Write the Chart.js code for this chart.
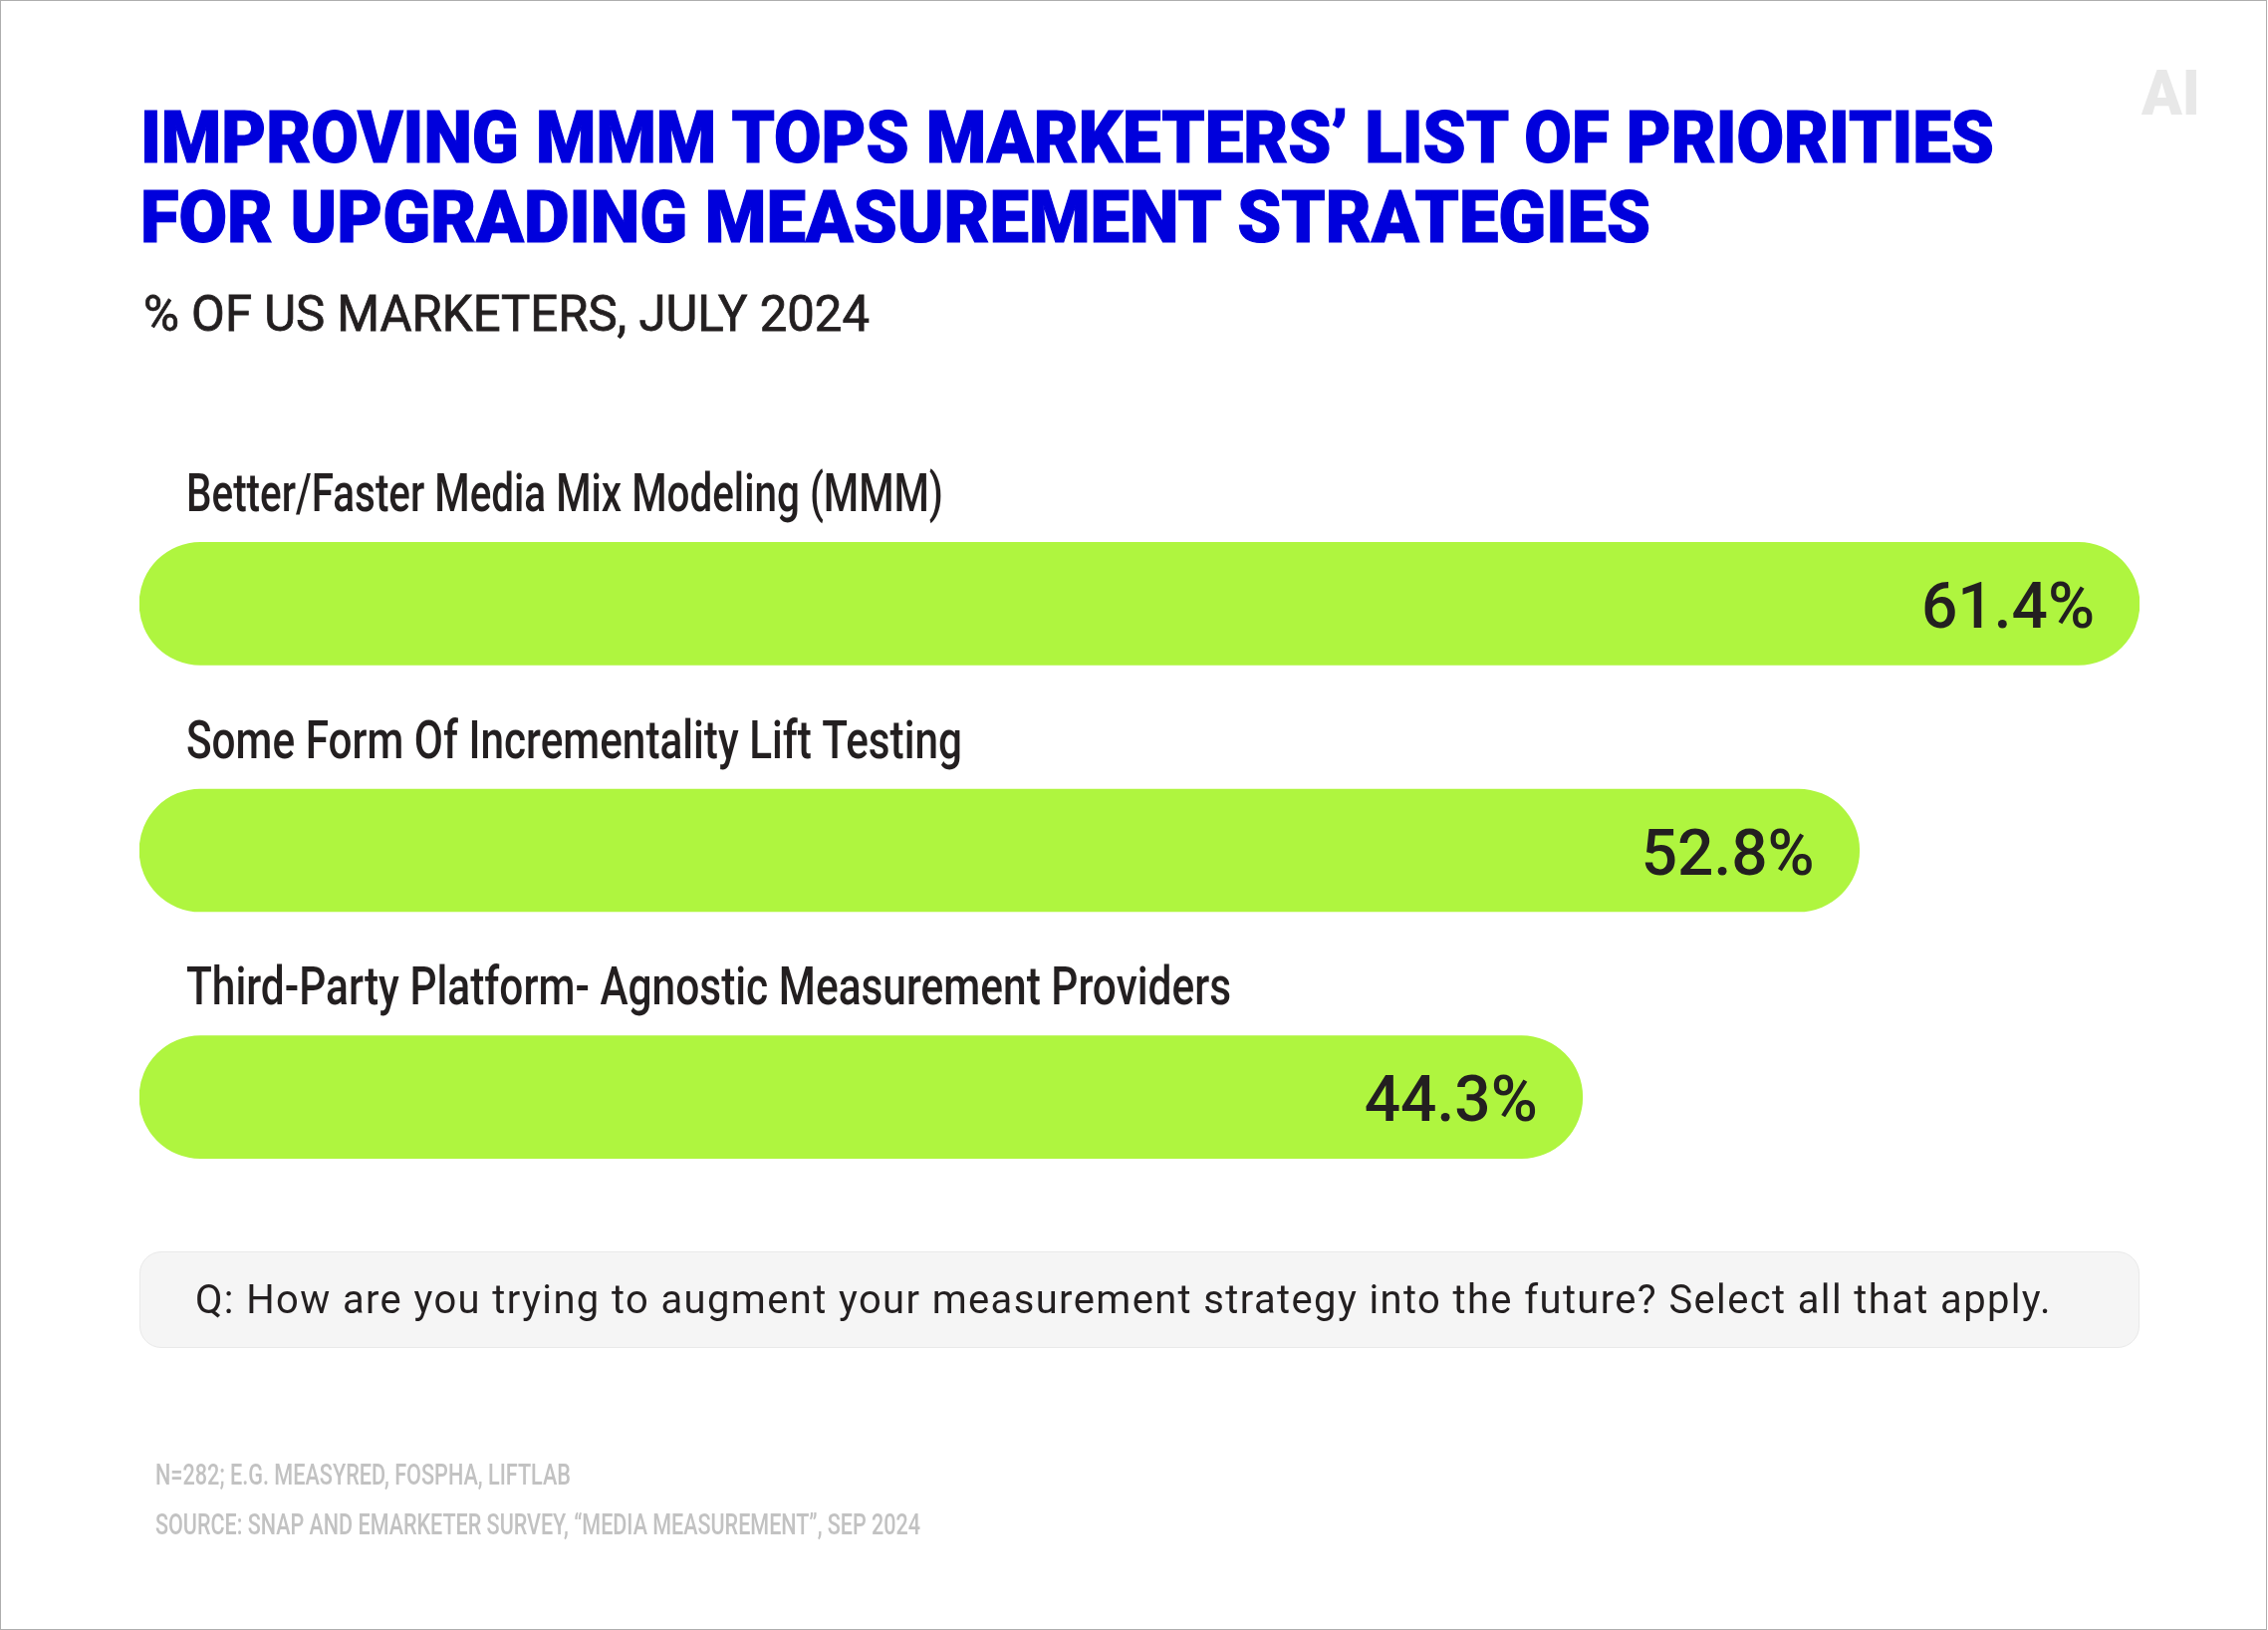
<!DOCTYPE html>
<html><head><meta charset="utf-8">
<script src="https://cdn.jsdelivr.net/npm/chart.js@4"></script>
<style>
html,body{margin:0;padding:0;background:#fff}
#page{position:relative;width:2277px;height:1636px;overflow:hidden;background:#fff;box-sizing:border-box}
#frame{position:absolute;inset:0 1px 0 0;border:1.5px solid #aeaeae;box-sizing:border-box;pointer-events:none}
canvas{position:absolute;left:0;top:0}
#qbox{position:absolute;left:140px;top:1256px;width:2008px;height:97px;box-sizing:border-box;background:#f5f5f5;border:1.5px solid #e9e9e9;border-radius:22px}
.t{position:absolute;white-space:nowrap;transform-origin:0 0;line-height:1}
</style></head><body>
<div id="page">
<div id="qbox"></div>
<canvas id="c" width="2277" height="1636"></canvas>
<div id="frame"></div>
</div>
<script>
const titleLines = ["IMPROVING MMM TOPS MARKETERS’ LIST OF PRIORITIES","FOR UPGRADING MEASUREMENT STRATEGIES"];
const subtitle = "% OF US MARKETERS, JULY 2024";
const categories = ["Better/Faster Media Mix Modeling (MMM)","Some Form Of Incrementality Lift Testing","Third-Party Platform- Agnostic Measurement Providers"];
const values = [61.4,52.8,44.3];
const question = "Q: How are you trying to augment your measurement strategy into the future? Select all that apply.";
const footnotes = ["N=282; E.G. MEASYRED, FOSPHA, LIFTLAB","SOURCE: SNAP AND EMARKETER SURVEY, “MEDIA MEASUREMENT”, SEP 2024"];
const logoText = "AI";
const categoryLabelEnds = [947,966,1236];

function place(text,x,base,right,font,color,extra){
  const s=document.createElement('span');s.className='t';s.textContent=text;
  s.style.font=font;s.style.lineHeight='1';s.style.color=color;s.style.left=x+'px';s.style.top='0px';
  if(extra)Object.assign(s.style,extra);
  const m=document.createElement('i');m.style.cssText='display:inline-block;width:0;height:0;vertical-align:baseline';
  s.appendChild(m);
  document.getElementById('page').appendChild(s);
  const pr=document.getElementById('page').getBoundingClientRect();
  const b=m.getBoundingClientRect().bottom-pr.top;
  s.style.top=(base-b)+'px';
  const w=s.getBoundingClientRect().width;
  s.style.transform='scaleX('+((right-x)/w)+')';
}
const HEAD='900 73px Roboto', INK='#231f20';
place(titleLines[0],141,163,2002,HEAD,'#0000dc',{webkitTextStroke:'1.2px #0000dc'});
place(titleLines[1],141,243,1657,HEAD,'#0000dc',{webkitTextStroke:'1.2px #0000dc'});
place(subtitle,144,332,873,'400 50px Roboto',INK,{webkitTextStroke:'0.8px '+INK});
place(question,196,1318,2060,'400 40px Roboto',INK,{letterSpacing:'1.4px'});
place(footnotes[0],156,1490,573,'500 29px Roboto','#c2c2c2');
place(footnotes[1],156,1540,924,'500 29px Roboto','#c2c2c2');
place(logoText,2150,115,2209,'900 63px Roboto','#e8e8e8');

const barText={id:'barText',afterDatasetsDraw(ch){
  const {ctx}=ch,meta=ch.getDatasetMeta(0);
  meta.data.forEach((bar,i)=>{
    ctx.save();
    ctx.font='500 64px Roboto';ctx.fillStyle=INK;ctx.textAlign='right';ctx.textBaseline='alphabetic';
    ctx.fillText(values[i].toFixed(1)+'%',bar.x-45,bar.y+24);
    ctx.restore();
    ctx.save();
    ctx.font='500 53px Roboto';ctx.fillStyle=INK;ctx.textAlign='left';ctx.textBaseline='alphabetic';
    const x0=ch.chartArea.left+47, k=(categoryLabelEnds[i]-x0)/ctx.measureText(categories[i]).width;
    ctx.translate(x0,bar.y-93);ctx.scale(k,1);
    ctx.fillText(categories[i],0,0);
    ctx.restore();
  });
}};
new Chart(document.getElementById('c'),{
  type:'bar',
  data:{labels:categories,datasets:[{data:values,backgroundColor:'#aff53f',borderWidth:0,borderRadius:62,borderSkipped:false,barThickness:123}]},
  options:{
    indexAxis:'y',responsive:false,animation:false,devicePixelRatio:1,
    layout:{padding:{left:140,right:129,top:482,bottom:411}},
    plugins:{legend:{display:false},tooltip:{enabled:false},title:{display:false}},
    scales:{
      x:{display:false,min:0,max:61.4},
      y:{display:false}
    }
  },
  plugins:[barText]
});
</script>
</body></html>
